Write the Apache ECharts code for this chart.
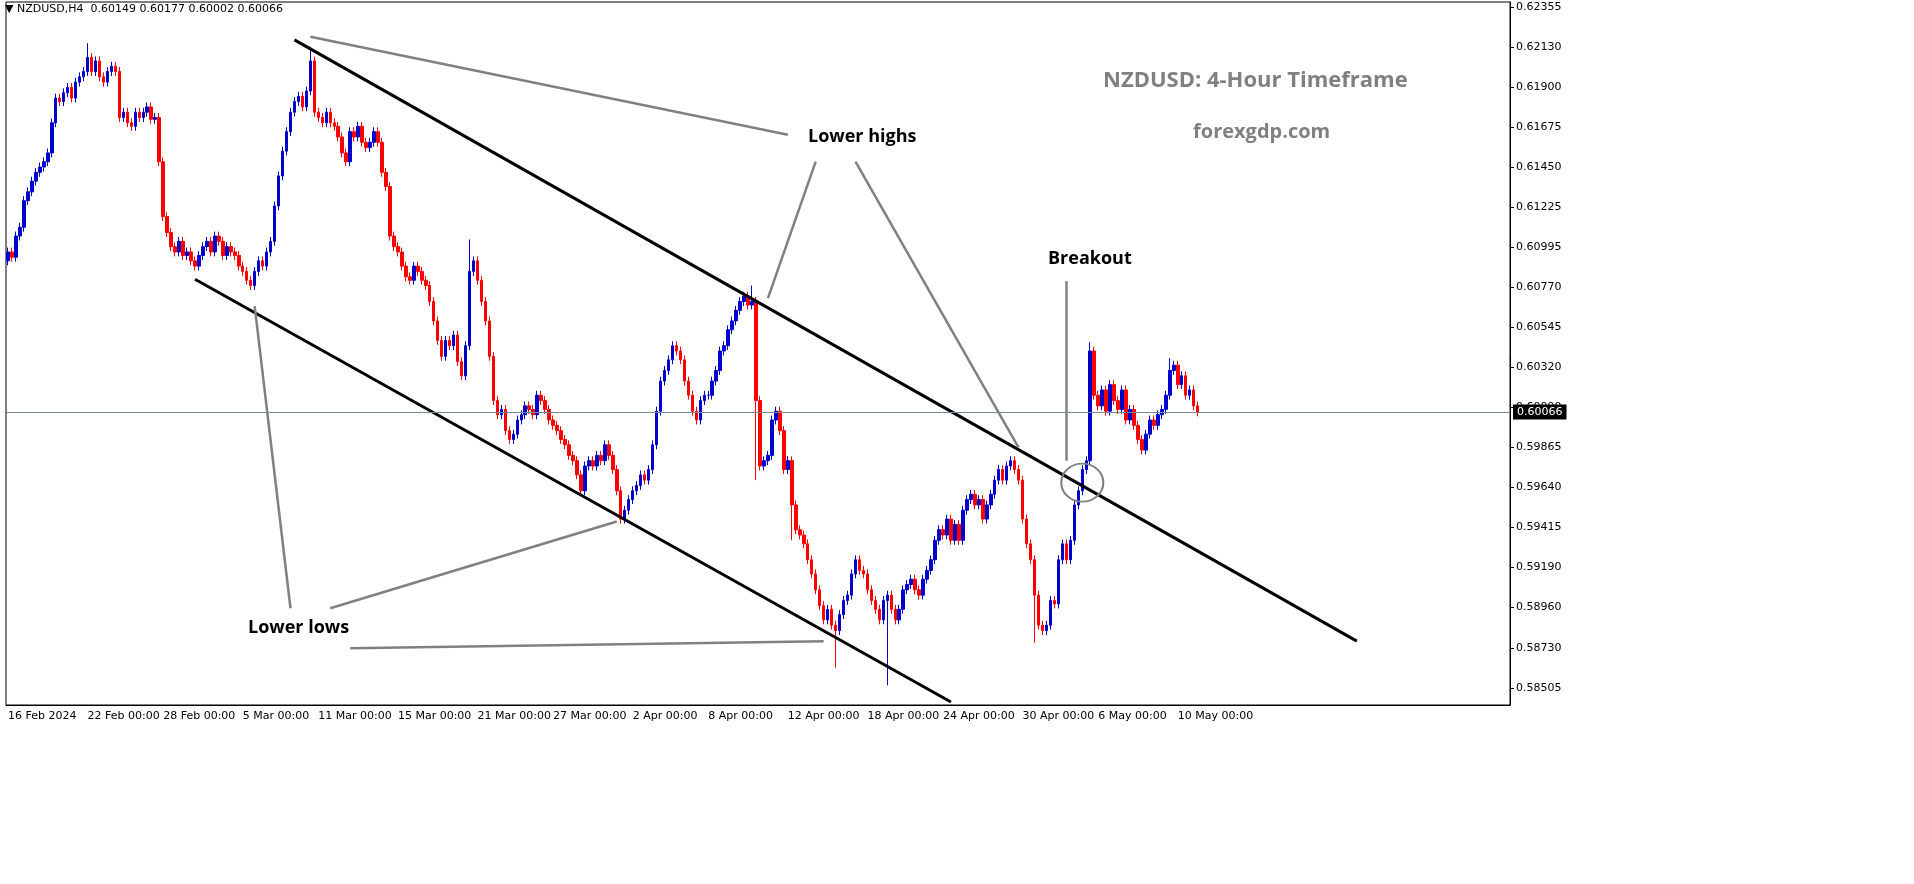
<!DOCTYPE html>
<html><head><meta charset="utf-8">
<script src="https://cdn.jsdelivr.net/npm/echarts@6/dist/echarts.min.js"></script>
<style>html,body{margin:0;padding:0;background:#fff}#c{width:1914px;height:884px}</style>
</head><body><div id="c"></div>
<script>
const closes = [
0.6097,0.6094,0.6106,0.6111,0.6126,0.6131,0.6137,0.6142,0.6145,0.6148,
0.6153,0.6170,0.6184,0.6182,0.6187,0.6190,0.6184,0.6193,0.6196,0.6199,
0.6207,0.6199,0.6205,0.6196,0.6193,0.6199,0.6202,0.6199,0.6173,0.6176,
0.6170,0.6168,0.6176,0.6173,0.6176,0.6179,0.6172,0.6173,0.6148,0.6117,
0.6108,0.6100,0.6097,0.6103,0.6095,0.6097,0.6092,0.6089,0.6095,0.6100,
0.6103,0.6097,0.6106,0.6103,0.6095,0.6100,0.6097,0.6095,0.6089,0.6086,
0.6081,0.6078,0.6086,0.6092,0.6089,0.6097,0.6103,0.6123,0.6140,0.6154,
0.6165,0.6176,0.6182,0.6185,0.6179,0.6188,0.6205,0.6176,0.6173,0.6170,
0.6176,0.6170,0.6168,0.6162,0.6153,0.6148,0.6165,0.6162,0.6168,0.6159,
0.6156,0.6159,0.6165,0.6159,0.6142,0.6134,0.6106,0.6100,0.6097,0.6089,
0.6083,0.6081,0.6089,0.6086,0.6081,0.6078,0.6069,0.6058,0.6047,0.6038,
0.6047,0.6044,0.6050,0.6035,0.6027,0.6044,0.6086,0.6092,0.6081,0.6069,
0.6058,0.6038,0.6013,0.6005,0.6008,0.5996,0.5991,0.5994,0.6002,0.6005,
0.6010,0.6008,0.6005,0.6016,0.6013,0.6008,0.6002,0.5999,0.5996,0.5991,
0.5988,0.5982,0.5979,0.5971,0.5962,0.5976,0.5979,0.5976,0.5982,0.5979,
0.5988,0.5982,0.5974,0.5962,0.5946,0.5951,0.5957,0.5962,0.5965,0.5971,
0.5968,0.5974,0.5988,0.6007,0.6024,0.6030,0.6036,0.6044,0.6041,0.6036,
0.6024,0.6016,0.6007,0.6002,0.6013,0.6016,0.6016,0.6024,0.6030,0.6041,
0.6044,0.6053,0.6058,0.6064,0.6069,0.6072,0.6067,0.6069,0.6013,0.5976,
0.5979,0.5982,0.6002,0.6007,0.5996,0.5974,0.5979,0.5954,0.5940,0.5937,
0.5932,0.5923,0.5915,0.5906,0.5897,0.5889,0.5895,0.5886,0.5883,0.5892,
0.5900,0.5903,0.5915,0.5923,0.5917,0.5915,0.5906,0.5900,0.5895,0.5889,
0.5900,0.5903,0.5895,0.5889,0.5895,0.5906,0.5909,0.5912,0.5906,0.5903,
0.5912,0.5917,0.5923,0.5934,0.5940,0.5937,0.5946,0.5934,0.5943,0.5934,
0.5951,0.5957,0.5960,0.5954,0.5957,0.5946,0.5954,0.5960,0.5968,0.5974,
0.5968,0.5976,0.5979,0.5974,0.5968,0.5946,0.5932,0.5923,0.5903,0.5886,
0.5883,0.5886,0.5900,0.5898,0.5923,0.5932,0.5923,0.5934,0.5954,0.5962,
0.5974,0.5979,0.6041,0.6016,0.6010,0.6019,0.6007,0.6022,0.6013,0.6008,
0.6019,0.6002,0.6008,0.5999,0.5991,0.5985,0.5994,0.6002,0.5999,0.6005,
0.6008,0.6016,0.6030,0.6033,0.6022,0.6027,0.6016,0.6019,0.6010,0.60066];
const firstOpen = 0.6092;
const spikes = [[20,0.6215,null],[76,0.6213,null],[116,0.6104,null],[187,0.6078,null],[188,null,0.5968],[197,null,0.5934],[208,null,0.5862],[221,null,0.5852],[258,null,0.5876],[272,0.6046,null],[292,0.6037,null]];
const xLabels = ['16 Feb 2024','22 Feb 00:00','28 Feb 00:00','5 Mar 00:00','11 Mar 00:00','15 Mar 00:00','21 Mar 00:00','27 Mar 00:00','2 Apr 00:00','8 Apr 00:00','12 Apr 00:00','18 Apr 00:00','24 Apr 00:00','30 Apr 00:00','6 May 00:00','10 May 00:00'];
const xLabelIdx = [0,20,39,59,78,98,118,137,157,176,196,216,235,255,274,294];
const yTicks = [0.58505,0.58730,0.58960,0.59190,0.59415,0.59640,0.59865,0.60090,0.60320,0.60545,0.60770,0.60995,0.61225,0.61450,0.61675,0.61900,0.62130,0.62355];
const lastPrice = 0.60066;
const upperChannel = [[71.7,0.62169],[339.3,0.58770]];
const lowerChannel = [[46.9,0.60816],[236.6,0.58426]];
const pointerLines = [
 [[75.7,0.62186],[196.0,0.61633]],
 [[202.5,0.61481],[190.5,0.60709]],
 [[213.0,0.61481],[254.4,0.59864]],
 [[71.4,0.58956],[61.9,0.60664]],
 [[80.7,0.58956],[152.6,0.59446]],
 [[85.7,0.58730],[204.8,0.58770]],
 [[266.2,0.60805],[266.2,0.59790]]
];
const breakoutCircle = [270.4,0.59666];

const N = 378;
const cats = [];
for (let i=0;i<N;i++){ const k=xLabelIdx.indexOf(i); cats.push(k>=0?xLabels[k]:'c'+i); }
const ohlc = [];
let prev = firstOpen;
closes.forEach((c,i)=>{
  let o=prev, hi=Math.max(o,c)+0.00025, lo=Math.min(o,c)-0.00025;
  const s=spikes.find(t=>t[0]===i);
  if(s){ if(s[1]!=null) hi=s[1]; if(s[2]!=null) lo=s[2]; }
  ohlc.push([o,c,lo,hi]); prev=c;
});
const ml = [
  [{coord:upperChannel[0],lineStyle:{color:'#000',width:3,type:'solid'}},{coord:upperChannel[1]}],
  [{coord:lowerChannel[0],lineStyle:{color:'#000',width:3,type:'solid'}},{coord:lowerChannel[1]}],
  ...pointerLines.map(l=>[{coord:l[0],lineStyle:{color:'#808080',width:2.5,type:'solid'}},{coord:l[1]}]),
];
const chart = echarts.init(document.getElementById('c'));
chart.setOption({
  animation:false,
  grid:{left:6,top:2,width:1504,bottom:179,show:true,borderColor:'#000',borderWidth:1},
  xAxis:{type:'category',data:cats,boundaryGap:true,
    axisLine:{lineStyle:{color:'#000'}},
    axisTick:{interval:(i)=>xLabelIdx.includes(i),length:3,lineStyle:{color:'#000'}},
    axisLabel:{interval:(i)=>xLabelIdx.includes(i),formatter:v=>v.startsWith('c')&&!v.includes(' ')?'':v,align:'left',color:'#000',fontSize:11,fontFamily:'DejaVu Sans',margin:6},
    splitLine:{show:false}},
  yAxis:{type:'value',position:'right',min:0.58409,max:0.62383,scale:true,
    axisLine:{show:true,lineStyle:{color:'#000'}},
    axisTick:{show:true,customValues:yTicks,length:4,inside:false,lineStyle:{color:'#000'}},
    axisLabel:{customValues:yTicks,formatter:v=>v.toFixed(5),color:'#000',fontSize:11,fontFamily:'DejaVu Sans',margin:6},
    splitLine:{show:false}},
  series:[{type:'candlestick',data:ohlc,barMaxWidth:3,barWidth:3,
    itemStyle:{color:'#0000CD',color0:'#FF0000',borderColor:'#0000CD',borderColor0:'#FF0000',borderWidth:1},
    markLine:{silent:true,symbol:'none',label:{show:false},data:[
      ...ml,
      [{yAxis:lastPrice,x:6,lineStyle:{color:'#778899',width:1,type:'solid'},label:{show:true,position:'end',formatter:'0.60066',color:'#fff',backgroundColor:'#000',padding:[2,4],fontSize:11,fontFamily:'DejaVu Sans',distance:3}},{yAxis:lastPrice,x:1510}]
    ]},
    markPoint:{silent:true,symbol:'circle',symbolSize:[42,38],label:{show:false},
      itemStyle:{color:'rgba(0,0,0,0)',borderColor:'#808080',borderWidth:2},
      data:[{coord:breakoutCircle}]}
  }],
  graphic:[
    {type:'text',left:5,top:4,style:{text:'▼ NZDUSD,H4  0.60149 0.60177 0.60002 0.60066',fill:'#000',font:'11px DejaVu Sans'}},
    {type:'text',left:1103,top:70,style:{text:'NZDUSD: 4-Hour Timeframe',fill:'#808080',font:'bold 22px "Open Sans"'}},
    {type:'text',left:1193,top:122,style:{text:'forexgdp.com',fill:'#808080',font:'bold 20px "Open Sans"'}},
    {type:'text',left:808,top:128,style:{text:'Lower highs',fill:'#000',font:'bold 18px "Open Sans"'}},
    {type:'text',left:248,top:619,style:{text:'Lower lows',fill:'#000',font:'bold 18px "Open Sans"'}},
    {type:'text',left:1048,top:250,style:{text:'Breakout',fill:'#000',font:'bold 18px "Open Sans"'}}
  ]
});
</script></body></html>
